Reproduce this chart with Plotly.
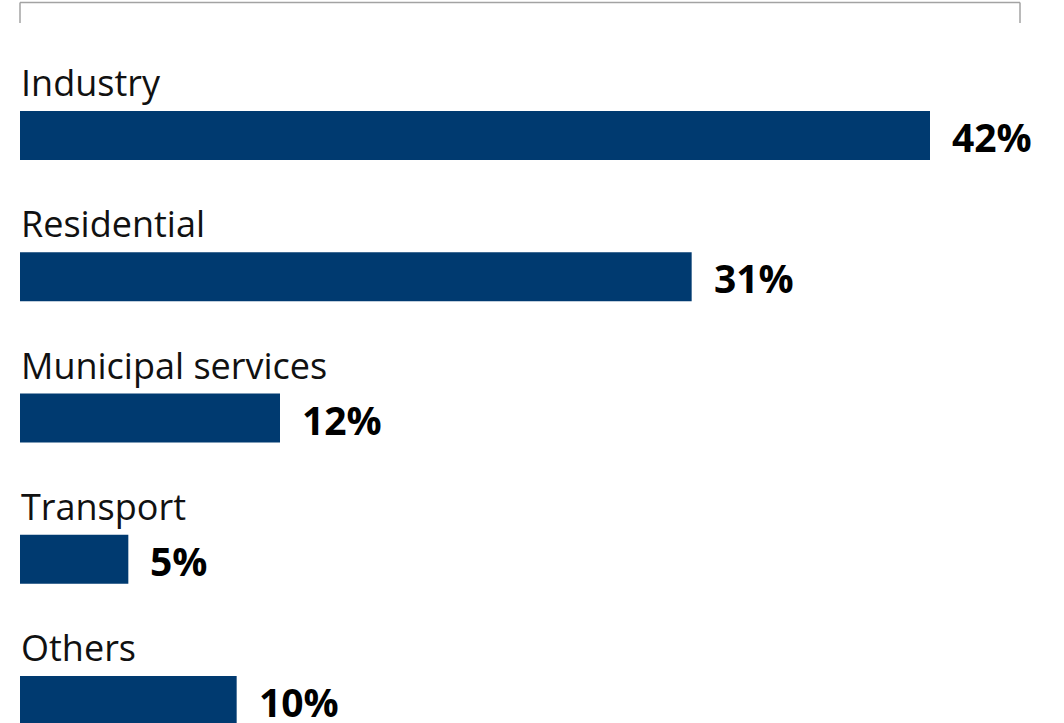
import plotly.graph_objects as go

# Share by sector (%)
sectors = ["Industry", "Residential", "Municipal services", "Transport", "Others"]
shares = [42, 31, 12, 5, 10]
value_labels = ["42%", "31%", "12%", "5%", "10%"]

BAR_COLOR = "#003a70"
W, H = 1064, 723
PX_PER_UNIT = 910 / 42          # horizontal scale
LEFT_PX = 20                     # x = 0 position
ROW_PX = 141.25                  # row pitch
FIRST_CENTER_PX = 135.5
BAR_PX = 49

ypos = list(range(len(sectors)))

fig = go.Figure(
    go.Bar(
        x=shares,
        y=ypos,
        orientation="h",
        marker=dict(color=BAR_COLOR, line=dict(width=0)),
        width=BAR_PX / ROW_PX,
        hoverinfo="skip",
    )
)

annotations = []
half = 0.5 * BAR_PX / ROW_PX
for i, (name, val, lab) in enumerate(zip(sectors, shares, value_labels)):
    # category name above the bar
    annotations.append(dict(
        x=0, y=i - half, xref="x", yref="y",
        text=name, showarrow=False, xanchor="left", yanchor="bottom",
        xshift=-1, yshift=2,
        font=dict(family="Open Sans", size=36, color="#111111"),
    ))
    # value at the end of the bar
    annotations.append(dict(
        x=val, y=i, xref="x", yref="y",
        text=f"<b>{lab}</b>", showarrow=False, xanchor="left", yanchor="middle",
        xshift=20, yshift=-1,
        font=dict(family="Open Sans", size=39, color="#000000"),
    ))

# bracket line along the top
bracket = dict(color="#a3a3a3", width=1.5)
top = 1 - 2.5 / H
tick = 1 - 23 / H
shapes = [
    dict(type="line", xref="paper", yref="paper", x0=20 / W, x1=1020 / W, y0=top, y1=top, line=bracket),
    dict(type="line", xref="paper", yref="paper", x0=20 / W, x1=20 / W, y0=top, y1=tick, line=bracket),
    dict(type="line", xref="paper", yref="paper", x0=1020 / W, x1=1020 / W, y0=top, y1=tick, line=bracket),
]

x_min = -LEFT_PX / PX_PER_UNIT
x_max = (W - LEFT_PX) / PX_PER_UNIT
y_top = -FIRST_CENTER_PX / ROW_PX
y_bottom = (H - FIRST_CENTER_PX) / ROW_PX

fig.update_layout(
    width=W, height=H,
    margin=dict(l=0, r=0, t=0, b=0),
    paper_bgcolor="white", plot_bgcolor="white",
    showlegend=False,
    xaxis=dict(range=[x_min, x_max], visible=False, fixedrange=True),
    yaxis=dict(range=[y_bottom, y_top], visible=False, fixedrange=True),
    annotations=annotations,
    shapes=shapes,
    font=dict(family="Open Sans"),
)

fig.write_html("out.html")
